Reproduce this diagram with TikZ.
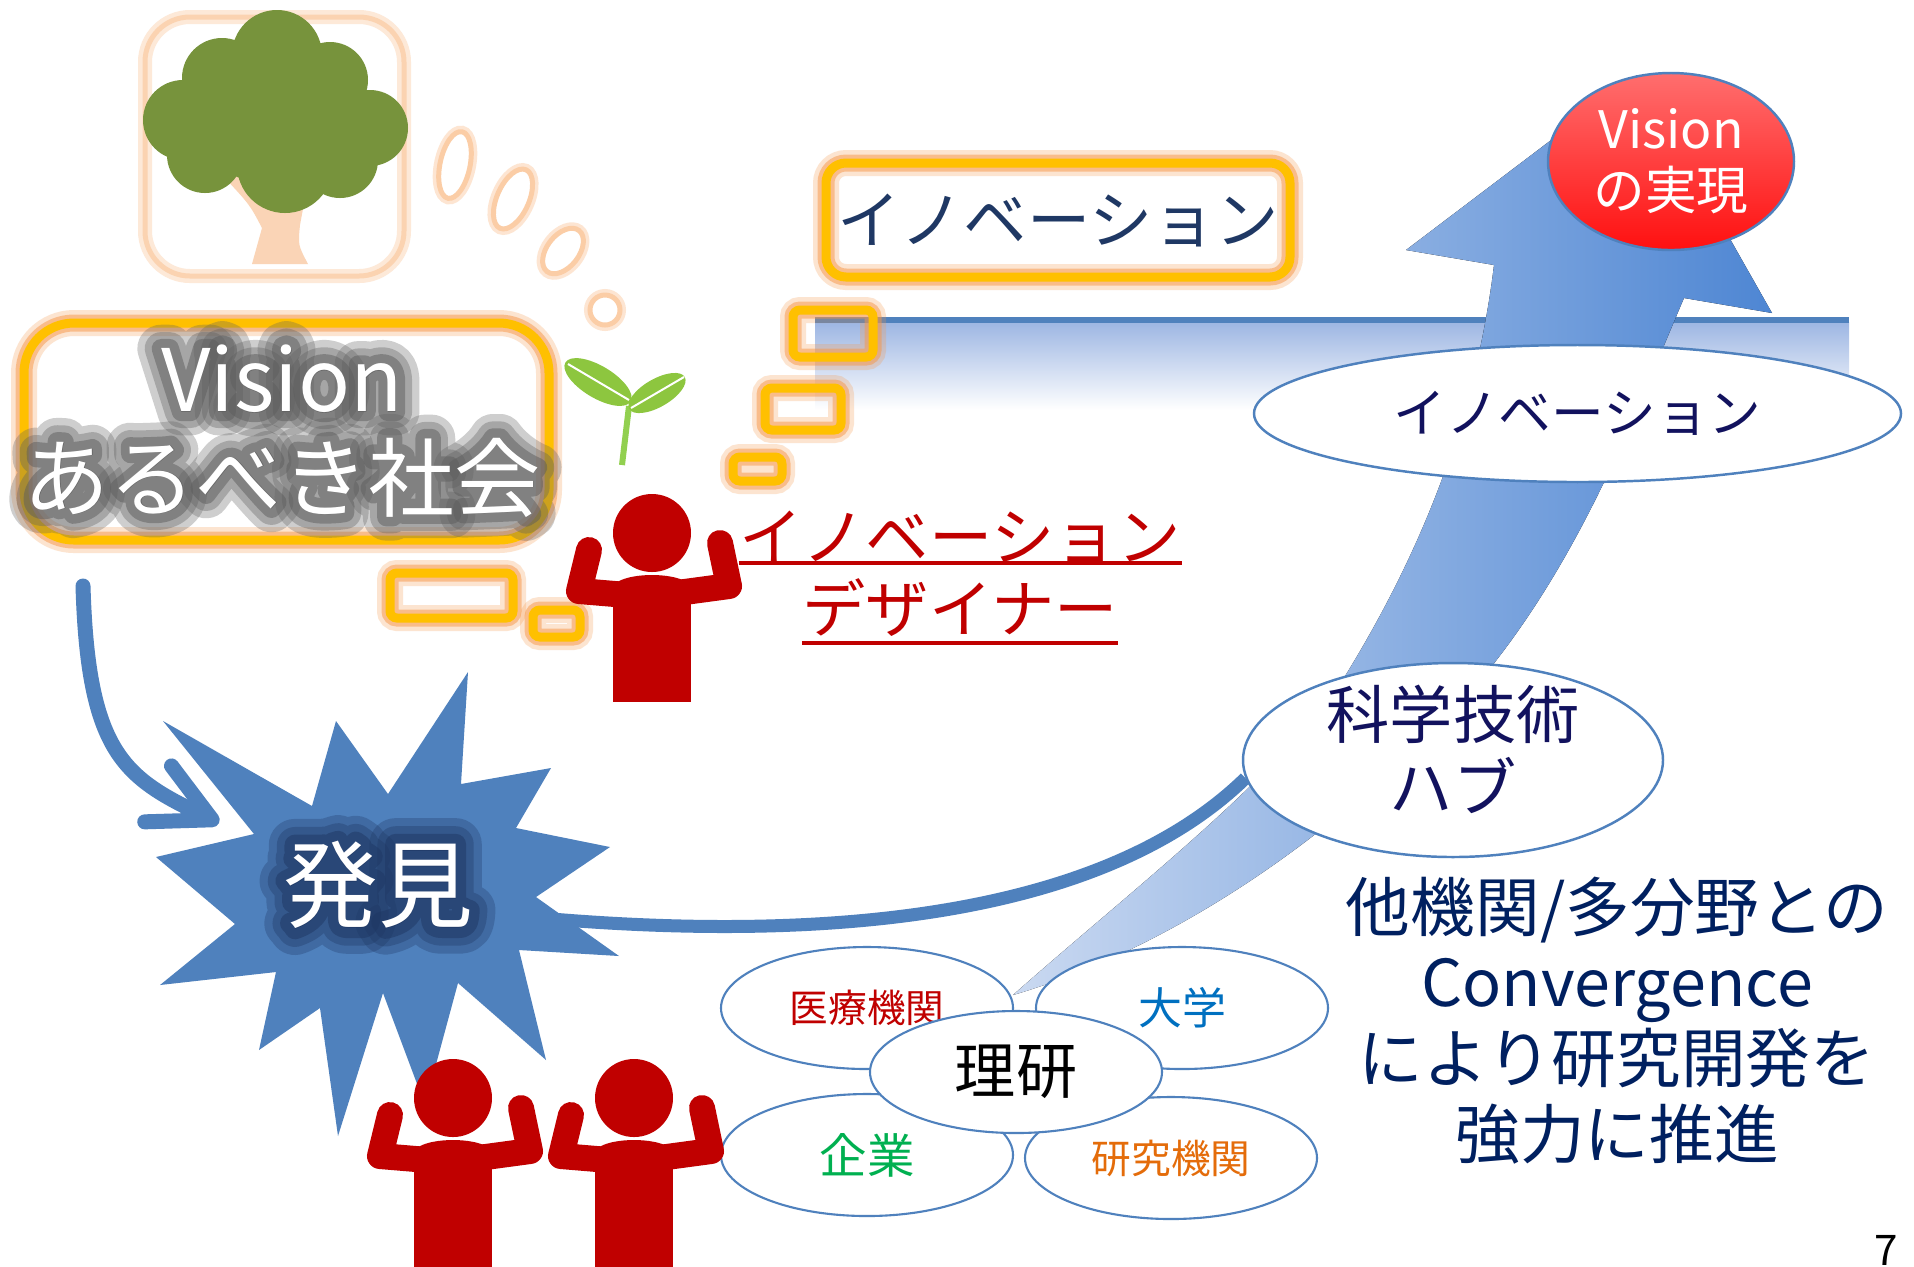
\documentclass[tikz,border=0pt]{standalone}
\usepackage{fontspec}
\setmainfont{Noto Sans CJK JP}
\newfontfamily\halonear{Noto Sans CJK JP}[FakeBold=22]
\newfontfamily\halomid{Noto Sans CJK JP}[FakeBold=38]
\newfontfamily\halofar{Noto Sans CJK JP}[FakeBold=55]
\usetikzlibrary{shapes.geometric, arrows.meta, positioning}

\definecolor{linkblue}{HTML}{4F81BD}
\definecolor{boxgold}{HTML}{FFC000}
\definecolor{boxglow}{HTML}{F79646}
\definecolor{peach}{HTML}{FAC090}
\definecolor{treegreen}{HTML}{77933C}
\definecolor{trunk}{HTML}{FAD4B6}
\definecolor{sprout}{HTML}{8DC63F}
\definecolor{stem}{HTML}{92D050}
\definecolor{personred}{HTML}{C00000}
\definecolor{navy}{HTML}{002060}
\definecolor{indigo}{HTML}{12125E}
\definecolor{slate}{HTML}{1F3864}
\definecolor{halogray}{HTML}{5E5E5E}
\definecolor{shelfblue}{HTML}{9DB6E3}
\definecolor{arrowlight}{HTML}{CAD9F1}
\definecolor{arrowdark}{HTML}{4E86D3}
\definecolor{goaltop}{HTML}{FF6E6E}
\definecolor{goalbot}{HTML}{FF1010}
\definecolor{univblue}{HTML}{0070C0}
\definecolor{corpgreen}{HTML}{00B050}
\definecolor{instorange}{HTML}{E46C0A}

\begin{document}
\begin{tikzpicture}[
    x=1cm, y=1cm,
    % Styles
    glowline/.style={draw=boxgold, line width=0.09cm,
        preaction={draw=boxglow, line width=0.26cm, opacity=0.25},
        preaction={draw=boxglow, line width=0.17cm, opacity=0.5}},
    glowbox/.style={rectangle, rounded corners=#1, inner sep=0pt,
        preaction={fill=white}, glowline},
    glowbox/.default=0.15cm,
    smallrect/.style={rectangle, rounded corners=0.07cm, inner sep=0pt, glowline},
    peachframe/.style={rectangle, rounded corners=0.45cm, inner sep=0pt,
        preaction={fill=white},
        preaction={draw=peach, line width=0.14cm, opacity=0.35},
        draw=peach!70, line width=0.05cm},
    bubble/.style={ellipse, inner sep=0pt, fill=white,
        preaction={draw=peach, line width=0.12cm, opacity=0.4},
        draw=peach!80, line width=0.05cm},
    orgell/.style={ellipse, draw=linkblue, line width=0.6pt, fill=white,
        inner sep=0pt, minimum width=2.92cm, minimum height=1.22cm},
    bigell/.style={ellipse, draw=linkblue, line width=0.7pt, inner sep=0pt, align=center},
    halo/.style={align=center, line join=round, opacity=#1},
    redlabel/.style={text=personred, inner sep=0pt, font=\fontsize{18}{22}\selectfont},
    underline/.style={personred, line width=0.04cm},
    flow/.style={linkblue, line width=0.15cm, line cap=round},
    person/.pic={
        \fill[personred] (0,0) circle (0.39);
        \fill[personred] (-0.39,-1.69) rectangle (0.39,-0.55);
        \fill[personred] (0,-0.55) ellipse (0.39 and 0.13);
        \draw[personred, line width=0.26cm, line cap=round, line join=round]
            (-0.25,-0.62) -- (-0.73,-0.58) -- (-0.63,-0.17);
        \draw[personred, line width=0.26cm, line cap=round, line join=round]
            (0.25,-0.60) -- (0.77,-0.53) -- (0.68,-0.10);
    }
]
\useasboundingbox (0,0) rectangle (19.14,-12.66);
\fill[white] (0,0) rectangle (19.14,-12.66);

% shelf under the innovation level
\fill[top color=shelfblue, bottom color=white] (8.15,-3.22) rectangle (18.49,-4.10);
\draw[linkblue, line width=0.06cm] (8.15,-3.20) -- (18.49,-3.20);

% tree in its frame
\node[peachframe, minimum width=2.59cm, minimum height=2.59cm] (treeframe) at (2.745,-1.465) {};
\fill[trunk] (2.52,-2.64) -- (2.62,-2.28) .. controls (2.50,-2.05) .. (2.25,-1.78)
    -- (2.45,-1.70) -- (2.80,-2.12) -- (3.05,-1.98) -- (3.00,-2.25)
    .. controls (2.98,-2.45) .. (3.08,-2.64) -- cycle;
\fill[treegreen] (2.77,-0.55) circle (0.45) (2.22,-0.78) circle (0.40)
    (3.30,-0.80) circle (0.38) (1.83,-1.20) circle (0.40) (3.70,-1.28) circle (0.38)
    (2.05,-1.55) circle (0.38) (2.85,-1.65) circle (0.48) (3.40,-1.60) circle (0.38)
    (2.70,-1.15) circle (0.70);

% thought bubbles
\node[bubble, minimum width=0.30cm, minimum height=0.68cm, rotate=-12] (b1) at (4.55,-1.65) {};
\node[bubble, minimum width=0.32cm, minimum height=0.64cm, rotate=-24] (b2) at (5.13,-1.99) {};
\node[bubble, minimum width=0.32cm, minimum height=0.52cm, rotate=-38] (b3) at (5.63,-2.51) {};
\node[bubble, circle, minimum size=0.30cm] (b4) at (6.05,-3.10) {};

% Vision box, white letters on a soft grey halo
\node[glowbox=0.5cm, minimum width=5.25cm, minimum height=2.17cm] (visionbox) at (2.865,-4.315) {};
\foreach \face/\op/\n in {\halofar/0.3/1, \halomid/0.35/2, \halonear/0.5/3}
    \node[halo=\op, text=halogray, font=\face\fontsize{24.5}{28}\selectfont] (visionhalo\n) at (2.82,-4.31) {Vision\\あるべき社会};
\node[align=center, text=white, font=\fontsize{24.5}{28}\selectfont] (visiontxt) at (2.82,-4.31) {Vision\\あるべき社会};

% little frames
\node[smallrect, minimum width=0.80cm, minimum height=0.47cm] (r1) at (8.33,-3.335) {};
\node[smallrect, minimum width=0.76cm, minimum height=0.42cm] (r2) at (8.03,-4.09) {};
\node[smallrect, minimum width=0.49cm, minimum height=0.24cm] (r3) at (7.575,-4.69) {};
\node[smallrect, minimum width=1.23cm, minimum height=0.45cm] (r4) at (4.515,-5.955) {};
\node[smallrect, minimum width=0.47cm, minimum height=0.27cm] (r5) at (5.565,-6.235) {};

% sprout
\draw[stem, line width=0.06cm] (6.29,-4.06) -- (6.22,-4.65);
\fill[sprout, rotate around={-31:(5.98,-3.82)}] (5.98,-3.82) ellipse (0.38 and 0.16);
\draw[white, line width=0.02cm] (5.68,-3.64) -- (6.29,-4.00);
\fill[sprout, rotate around={30:(6.57,-3.93)}] (6.57,-3.93) ellipse (0.32 and 0.14);
\draw[white, line width=0.02cm] (6.31,-4.08) -- (6.84,-3.77);

% innovation box
\node[glowbox=0.2cm, minimum width=4.64cm, minimum height=1.14cm,
    font=\fontsize{18}{22}\selectfont, text=slate] (innobox) at (10.58,-2.20) {イノベーション};

% big rising arrow
\fill[left color=arrowlight, right color=arrowdark]
    (10.13,-9.95) .. controls (12.0,-9.4) and (13.8,-8.0) .. (14.95,-6.62)
    .. controls (15.9,-5.4) and (16.4,-4.0) .. (16.84,-2.98)
    -- (17.72,-3.13) -- (16.37,-0.75) -- (14.06,-2.50) -- (14.94,-2.65)
    .. controls (14.75,-4.2) and (14.2,-5.6) .. (13.3,-7.0)
    .. controls (12.5,-8.0) and (11.2,-9.0) .. (10.13,-9.95) -- cycle;

\node[bigell, fill=white, minimum width=6.47cm, minimum height=1.37cm,
    font=\fontsize{15}{18}\selectfont, text=indigo] (innoell) at (15.775,-4.135) {イノベーション};
\node[bigell, top color=goaltop, bottom color=goalbot, minimum width=2.46cm, minimum height=1.77cm,
    text=white, font=\fontsize{14.7}{17.4}\selectfont] (goal) at (16.71,-1.615) {Vision\\の実現};
\node[bigell, fill=white, minimum width=4.20cm, minimum height=1.94cm] (hub) at (14.53,-7.60) {};
\node[align=center, text=indigo, font=\fontsize{18}{20.8}\selectfont] (hubtxt) at (14.53,-7.49) {科学技術\\ハブ};

% partners around RIKEN
\node[orgell, text=personred, font=\fontsize{11}{13}\selectfont] (med) at (8.67,-10.08) {医療機関};
\node[orgell, text=univblue, font=\fontsize{12.5}{15}\selectfont] (univ) at (11.82,-10.08) {大学};
\node[orgell, text=corpgreen, font=\fontsize{13.5}{16}\selectfont] (corp) at (8.67,-11.55) {企業};
\node[orgell, text=instorange, font=\fontsize{11.3}{13}\selectfont] (inst) at (11.71,-11.58) {研究機関};
\node[orgell, font=\fontsize{17.4}{20}\selectfont] (riken) at (10.16,-10.72) {理研};

% discovery burst
\fill[linkblue] (1.56,-8.57) -- (2.54,-8.34) -- (1.63,-7.21) -- (3.12,-8.06)
    -- (3.36,-7.21) -- (3.88,-7.94) -- (4.68,-6.72) -- (4.61,-7.84)
    -- (5.51,-7.68) -- (5.16,-8.28) -- (6.10,-8.47) -- (5.36,-8.97)
    -- (6.19,-9.56) -- (5.19,-9.50) -- (5.46,-10.60) -- (4.58,-9.83)
    -- (4.25,-11.05) -- (3.83,-9.93) -- (3.38,-11.36) -- (3.20,-10.08)
    -- (2.59,-10.50) -- (2.76,-9.72) -- (1.60,-9.85) -- (2.35,-9.24) -- cycle;
\foreach \face/\op/\n in {\halofar/0.3/1, \halomid/0.35/2, \halonear/0.5/3}
    \node[halo=\op, text=slate, font=\face\fontsize{27}{30}\selectfont] (dischalo\n) at (3.78,-8.85) {発見};
\node[text=white, font=\fontsize{27}{30}\selectfont] (disc) at (3.78,-8.85) {発見};

% links
\coordinate (dout) at (5.40,-9.18);
\draw[linkblue, line width=0.13cm] (dout) .. controls (8.5,-9.45) and (11.1,-9.1) .. (hub.185);
\coordinate (vstart) at (0.83,-5.86);
\coordinate (dhit) at (2.19,-8.23);
\draw[flow, -{Straight Barb[length=0.6cm, width=0.62cm, round]}]
    (vstart) .. controls (0.88,-7.55) and (1.25,-7.78) .. (dhit);

% people
\pic at (6.52,-5.33) {person};
\pic at (4.53,-10.98) {person};
\pic at (6.34,-10.98) {person};

% innovation designer
\node[redlabel] (des1) at (9.60,-5.37) {イノベーション};
\node[redlabel, below=0.14cm of des1] (des2) {デザイナー};
\draw[underline] ([yshift=-0.03cm]des1.base west) -- ([yshift=-0.03cm]des1.base east);
\draw[underline] ([yshift=-0.10cm]des2.base west) -- ([yshift=-0.10cm]des2.base east);

% convergence message
\node[align=center, text=navy, font=\fontsize{18.4}{21.6}\selectfont] (conv) at (16.17,-10.205)
    {他機関/多分野との\\Convergence\\により研究開発を\\強力に推進};

\node[inner sep=0pt, font=\fontsize{12}{14}\selectfont] (pageno) at (18.86,-12.50) {7};
\end{tikzpicture}
\end{document}
